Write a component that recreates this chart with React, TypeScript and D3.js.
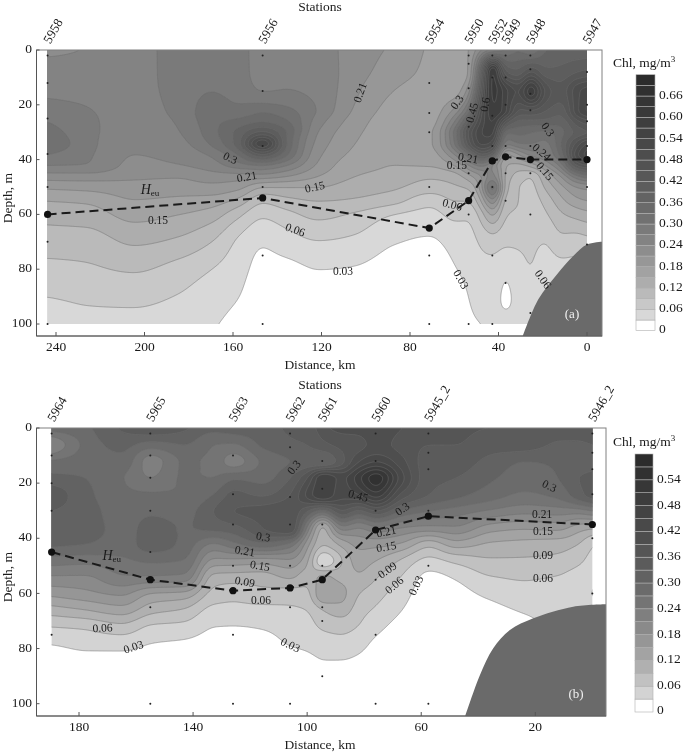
import React, { useMemo } from "react";
import * as d3 from "d3";

// ---------- Panel (a) ----------
const distA = [244, 226, 205, 185, 170, 158, 147, 136, 122, 105, 88, 71, 60, 53.5, 48, 42.8, 37, 31, 25.6, 19, 12, 5, 0];
const depthA = [0, 8, 15, 22, 26, 30, 34, 38, 42, 46, 50, 55, 60, 70, 80, 90, 100];
const profilesA = [
  [.23, .26, .265, .285, .30, .315, .33, .30, .27, .225, .185, .15, .13, .105, .08, .06, .04],
  [.242, .255, .262, .272, .277, .28, .28, .275, .268, .225, .19, .155, .135, .105, .085, .065, .05],
  [.25, .255, .258, .258, .255, .25, .246, .24, .232, .216, .197, .178, .16, .124, .093, .068, .048],
  [.285, .285, .283, .278, .273, .268, .26, .25, .238, .213, .195, .172, .15, .113, .078, .058, .042],
  [.285, .29, .30, .315, .32, .318, .305, .275, .255, .225, .20, .165, .135, .09, .06, .043, .033],
  [.285, .285, .29, .31, .34, .37, .375, .33, .285, .225, .19, .14, .098, .055, .042, .031, .02],
  [.25, .255, .27, .325, .36, .43, .54, .42, .30, .225, .15, .095, .065, .033, .02, .012, .01],
  [.26, .262, .272, .31, .335, .36, .36, .335, .27, .21, .15, .11, .08, .045, .022, .014, .01],
  [.255, .258, .262, .268, .255, .24, .23, .218, .205, .18, .15, .12, .098, .058, .03, .018, .012],
  [.225, .222, .215, .205, .195, .187, .18, .172, .16, .15, .135, .115, .085, .052, .028, .02, .012],
  [.205, .195, .18, .17, .165, .16, .155, .152, .15, .14, .125, .10, .06, .032, .018, .012, .01],
  [.175, .17, .165, .165, .168, .175, .175, .165, .152, .125, .105, .07, .05, .026, .015, .01, .01],
  [.16, .15, .165, .22, .27, .31, .30, .24, .18, .135, .115, .09, .068, .04, .028, .015, .012],
  [.18, .18, .23, .32, .40, .46, .44, .33, .24, .17, .125, .09, .065, .048, .04, .031, .025],
  [.24, .40, .45, .50, .52, .54, .52, .42, .28, .21, .195, .15, .105, .065, .05, .04, .03],
  [.28, .63, .62, .60, .58, .56, .50, .38, .24, .26, .33, .24, .16, .075, .05, .04, .035],
  [.30, .42, .55, .55, .44, .33, .27, .17, .15, .14, .13, .105, .09, .065, .034, .024, .04],
  [.33, .40, .50, .44, .38, .34, .30, .21, .14, .105, .09, .09, .085, .065, .05, .04, .035],
  [.30, .46, .60, .45, .38, .33, .30, .25, .16, .09, .08, .075, .07, .065, .06, .045, .035],
  [.36, .40, .47, .42, .38, .32, .29, .27, .21, .15, .125, .10, .085, .06, .045, .04, .04],
  [.37, .40, .43, .40, .37, .35, .36, .34, .28, .21, .17, .14, .115, .08, .05, .04, .04],
  [.37, .42, .50, .50, .44, .40, .46, .50, .42, .29, .21, .17, .13, .075, .05, .04, .04],
  [.37, .43, .53, .55, .47, .42, .52, .56, .45, .32, .22, .18, .14, .08, .05, .04, .04],
];
const stationsA = [
  { name: "5958", dist: 243.8, samples: [2, 12, 25, 38, 50, 70, 100] },
  { name: "5956", dist: 146.6, samples: [2, 15, 35, 50, 75, 100] },
  { name: "5954", dist: 71.3, samples: [12, 23, 30, 50, 75, 100] },
  { name: "5950", dist: 53.5, samples: [2, 5, 14, 28, 45, 60, 100] },
  { name: "5952", dist: 42.8, samples: [2, 10, 24, 35, 50, 75, 100] },
  { name: "5949", dist: 36.8, samples: [2, 10, 20, 35, 45, 55, 85] },
  { name: "5948", dist: 25.6, samples: [2, 7, 16, 22, 35, 45, 60, 96] },
  { name: "5947", dist: 0, samples: [8, 20, 26, 35, 50, 71] },
];
const heuA = [[243.8, 60], [146.6, 54], [71.3, 65], [53.5, 55], [42.8, 40.5], [36.8, 39], [25.6, 40], [0, 40]];
const bottomA = [[29, 104.4], [22, 91], [13.7, 82], [6, 75], [0, 71], [-7, 70]];
const labelsA: [string, number, number, number][] = [
  ["0.3", 161.4, 39.8, 25], ["0.21", 153.7, 46.7, -10], ["0.15", 122.9, 50.4, -12], ["0.15", 193.9, 62.4, 0],
  ["0.06", 132, 66, 20], ["0.03", 110.3, 81, 0], ["0.21", 102.1, 15.7, -70], ["0.3", 58.3, 19.3, -55],
  ["0.45", 51.5, 23, -75], ["0.6", 45.6, 20, -80], ["0.3", 18.1, 29.2, 55], ["0.21", 53.8, 39.8, 10],
  ["0.15", 58.8, 42.3, 0], ["0.24", 20.8, 37.6, 40], ["0.15", 19.4, 44.5, 50], ["0.06", 61, 56.9, 15],
  ["0.03", 57.4, 83.9, 60], ["0.06", 20.3, 83.9, 55],
];
const ticksXA = [240, 200, 160, 120, 80, 40, 0];
const legendTicksA = [0, .06, .12, .18, .24, .30, .36, .42, .48, .54, .60, .66];

// ---------- Panel (b) ----------
const distB = [189.6, 178, 165, 155, 143, 133, 126, 116, 106, 100, 94.7, 88, 82, 76, 67, 57.5, 48, 36, 24, 12, 5, 0];
const depthB = [0, 6, 12, 18, 24, 30, 36, 42, 48, 54, 60, 66, 72, 78, 84, 92, 100];
const profilesB = [
  [.285, .21, .275, .31, .35, .33, .315, .305, .255, .205, .158, .105, .06, .032, .01, .008, .005],
  [.295, .278, .285, .30, .31, .315, .315, .30, .25, .205, .17, .118, .065, .04, .02, .01, .005],
  [.335, .31, .29, .272, .278, .285, .288, .285, .263, .235, .185, .135, .08, .042, .02, .01, .005],
  [.36, .285, .225, .24, .275, .295, .31, .315, .275, .235, .148, .10, .055, .03, .015, .01, .005],
  [.335, .30, .275, .275, .275, .29, .298, .29, .268, .23, .14, .085, .05, .025, .012, .008, .005],
  [.31, .27, .26, .27, .30, .33, .31, .235, .17, .108, .078, .05, .03, .018, .01, .008, .005],
  [.32, .265, .225, .295, .34, .36, .32, .26, .17, .105, .07, .05, .029, .018, .01, .008, .005],
  [.32, .305, .275, .29, .325, .37, .36, .29, .165, .105, .08, .05, .032, .02, .012, .008, .005],
  [.335, .325, .30, .33, .36, .385, .39, .26, .175, .125, .075, .055, .042, .032, .02, .012, .008],
  [.34, .33, .31, .39, .43, .33, .23, .16, .125, .10, .08, .06, .048, .036, .024, .012, .008],
  [.38, .35, .30, .48, .48, .28, .11, .09, .03, .13, .15, .09, .065, .045, .03, .02, .015],
  [.40, .37, .35, .44, .43, .36, .23, .13, .09, .11, .13, .105, .07, .05, .03, .015, .01],
  [.40, .38, .42, .50, .45, .32, .21, .16, .135, .115, .09, .072, .058, .04, .025, .012, .008],
  [.41, .40, .45, .56, .50, .36, .235, .16, .12, .092, .072, .055, .038, .024, .016, .01, .008],
  [.39, .38, .40, .43, .38, .295, .21, .145, .085, .058, .042, .03, .02, .014, .01, .008, .008],
  [.38, .36, .345, .34, .33, .27, .20, .10, .05, .022, .015, .012, .01, .01, .008, .008, .008],
  [.37, .36, .345, .33, .31, .255, .205, .135, .068, .033, .02, .012, .01, .008, .008, .008, .008],
  [.36, .345, .32, .305, .285, .235, .165, .115, .085, .058, .037, .02, .012, .01, .008, .008, .008],
  [.36, .345, .30, .285, .265, .22, .155, .11, .085, .063, .05, .033, .02, .012, .01, .01, .01],
  [.345, .325, .305, .30, .28, .225, .16, .105, .08, .058, .045, .04, .035, .03, .03, .03, .03],
  [.345, .325, .31, .33, .32, .225, .135, .09, .065, .05, .045, .04, .035, .03, .03, .03, .03],
  [.36, .33, .32, .34, .345, .24, .125, .06, .05, .055, .063, .045, .04, .035, .03, .03, .03],
];
const stationsB = [
  { name: "5964", dist: 189.6, samples: [2, 10, 20, 30, 45, 75] },
  { name: "5965", dist: 155, samples: [2, 10, 18, 30, 45, 65, 100] },
  { name: "5963", dist: 126, samples: [10, 24, 35, 50, 75, 100] },
  { name: "5962", dist: 106, samples: [2, 7, 25, 35, 50, 65, 100] },
  { name: "5961", dist: 94.7, samples: [12, 22, 35, 50, 65, 70, 90] },
  { name: "5960", dist: 76, samples: [2, 12, 30, 55, 75, 100] },
  { name: "5945_2", dist: 57.5, samples: [2, 9, 15, 30, 50, 100] },
  { name: "5946_2", dist: 0, samples: [2, 9, 15, 24, 40, 60] },
];
const heuB = [[189.6, 45], [155, 55], [126, 59], [106, 58], [94.7, 55], [76, 37], [57.5, 32], [0, 35]];
const bottomB = [[44.6, 104.6], [39.4, 89.6], [34.8, 80], [28.9, 73.3], [20.7, 69], [6.7, 64.8], [-4.8, 63.9]];
const labelsB: [string, number, number, number][] = [
  ["0.3", 104.3, 14.5, -50], ["0.3", 115.5, 39.9, 10], ["0.21", 121.9, 45, 10], ["0.15", 116.6, 50.4, 10],
  ["0.09", 121.9, 56.2, 10], ["0.06", 116.2, 62.7, 0], ["0.06", 171.7, 72.9, -3], ["0.03", 160.8, 79.8, -18],
  ["0.03", 106, 79.1, 25], ["0.45", 82.2, 25, 15], ["0.3", 66.4, 29.7, -35], ["0.21", 72.2, 38, -12],
  ["0.15", 72.2, 43.5, -10], ["0.09", 71.7, 51.9, -35], ["0.06", 69.2, 57.3, -40], ["0.03", 61.5, 57.3, -65],
  ["0.3", 15.2, 21.4, 25], ["0.21", 17.6, 31.6, 0], ["0.15", 17.3, 38, 0], ["0.09", 17.3, 46.4, 0], ["0.06", 17.3, 54.8, 0],
];
const ticksXB = [180, 140, 100, 60, 20];
const legendTicksB = [0, .06, .12, .18, .24, .30, .36, .42, .48, .54];

const ticksY = [0, 20, 40, 60, 80, 100];
const STEP = 0.03;
const FONT = "'Liberation Serif', serif";
// Grey ramp, as a function of the share of the colour bar's range.
const rampF = [0, .04, .083, .167, .25, .333, .417, .5, .583, .667, .75, .833, .917, 1];
const rampC = ["#ffffff", "#e0e0e0", "#d0d0d0", "#b2b2b2", "#9c9c9c", "#888888", "#757575", "#666666", "#5a5a5a", "#4f4f4f", "#464646", "#3c3c3c", "#323232", "#2a2a2a"];

// Monotone cubic resampling of one profile onto integer pixel positions, so the
// contours of the read values come out round, as in the kriged original.
function resample(xs: number[], ys: number[], start: number, n: number, out: Float64Array, off: number, stride: number) {
  const k = xs.length;
  const h = d3.range(k - 1).map((i) => xs[i + 1] - xs[i]);
  const s = d3.range(k - 1).map((i) => (ys[i + 1] - ys[i]) / h[i]);
  const m = new Array(k).fill(0);
  m[0] = s[0];
  m[k - 1] = s[k - 2];
  for (let i = 1; i < k - 1; i++) {
    if (s[i - 1] * s[i] <= 0) m[i] = 0;
    else {
      const w1 = 2 * h[i] + h[i - 1];
      const w2 = h[i] + 2 * h[i - 1];
      m[i] = (w1 + w2) / (w1 / s[i - 1] + w2 / s[i]);
    }
  }
  let c = 0;
  for (let q = 0; q < n; q++) {
    const p = start + q;
    while (c < k - 2 && p >= xs[c + 1]) c++;
    const t = Math.min(Math.max((p - xs[c]) / h[c], 0), 1);
    const t2 = t * t, t3 = t2 * t;
    out[off + q * stride] =
      (2 * t3 - 3 * t2 + 1) * ys[c] + (t3 - 2 * t2 + t) * h[c] * m[c] +
      (-2 * t3 + 3 * t2) * ys[c + 1] + (t3 - t2) * h[c] * m[c + 1];
  }
}

function Panel({ cfg }: { cfg: any }) {
  const { dist, depth, profiles, stations, heu, bottom, labels, ticksX, legendTicks, vmax,
    xScale: x, yScale: y, frame, legend, tag, heuPos, id } = cfg;
  const colour = d3.scaleLinear<string>().domain(rampF.map((f) => f * vmax)).range(rampC);

  const { bands, gx, gy } = useMemo(() => {
    const cx: number[] = dist.map((d: number) => x(d));
    const cy: number[] = depth.map((d: number) => y(d));
    const gx = Math.floor(cx[0]) - 4;
    const gy = Math.floor(cy[0]) - 4;
    const w = Math.ceil(cx[cx.length - 1]) + 4 - gx;
    const h = Math.ceil(cy[cy.length - 1]) + 4 - gy;
    const columns = profiles.map((p: number[]) => {
      const o = new Float64Array(h);
      resample(cy, p, gy, h, o, 0, 1);
      return o;
    });
    const field = new Float64Array(w * h);
    for (let j = 0; j < h; j++) {
      resample(cx, columns.map((c: Float64Array) => c[j]), gx, w, field, j * w, 1);
    }
    d3.blur2({ data: field, width: w, height: h }, 3, 1);
    const thresholds = d3.range(1, Math.round(vmax / STEP)).map((k) => k * STEP);
    const gen = d3.contours().size([w, h]).smooth(true).thresholds(thresholds);
    return { bands: gen(field as any), gx, gy };
  }, []);

  const path = d3.geoPath();
  const xL = x(dist[0]);
  const xR = x(dist[dist.length - 1]);
  const line = d3.line<number[]>().x((d) => x(d[0])).y((d) => y(d[1]));
  const smooth = d3.line<number[]>().x((d) => x(d[0])).y((d) => y(d[1])).curve(d3.curveCatmullRom);
  const bottomPath = smooth(bottom) +
    `L${frame.right},${y(bottom[bottom.length - 1][1])}L${frame.right},${frame.bottom}L${x(bottom[0][0])},${frame.bottom}Z`;
  const legY = d3.scaleLinear().domain([0, vmax]).range([legend.bottom, legend.top]);
  const cells = d3.range(0, Math.round(vmax / STEP)).map((k) => k * STEP);

  return (
    <g fontFamily={FONT} fill="#1a1a1a">
      <clipPath id={id}><rect x={xL} y={frame.top} width={xR - xL} height={y(100) - frame.top} /></clipPath>
      <g clipPath={`url(#${id})`}>
        <g transform={`translate(${gx},${gy})`}>
          {bands.map((b: any, i: number) => (
            <path key={i} d={path(b) as string} fill={colour(b.value + STEP / 2)} stroke="#6e6e6e" strokeWidth={0.5} />
          ))}
        </g>
      </g>
      <path d={bottomPath} fill="#6a6a6a" />
      <rect x={frame.left} y={frame.top} width={frame.right - frame.left} height={frame.bottom - frame.top} fill="none" stroke="#808080" strokeWidth={1} />
      <path d={`M${frame.left},${frame.top}V${frame.bottom}H${frame.right}`} fill="none" stroke="#555" strokeWidth={1} />

      {stations.map((s: any) => s.samples.map((v: number) => (
        <circle key={s.name + v} cx={x(s.dist)} cy={y(v)} r={1} fill="#222" />
      )))}
      {labels.map((l: any, i: number) => (
        <text key={i} transform={`translate(${x(l[1])},${y(l[2])}) rotate(${l[3]})`} fontSize={11.5} textAnchor="middle" dominantBaseline="middle">{l[0]}</text>
      ))}
      <path d={line(heu) as string} fill="none" stroke="#1a1a1a" strokeWidth={2} strokeDasharray="9,5" />
      {heu.map((p: number[], i: number) => <circle key={i} cx={x(p[0])} cy={y(p[1])} r={3.6} fill="#111" />)}
      <text x={x(heuPos[0])} y={y(heuPos[1])} fontSize={14} textAnchor="middle" dominantBaseline="middle">
        <tspan fontStyle="italic">H</tspan><tspan fontSize={9} dy={3}>eu</tspan>
      </text>
      <text x={frame.right - 30} y={frame.bottom - 21} fontSize={13} fill="#f0f0f0" textAnchor="middle" dominantBaseline="middle">{tag}</text>

      {ticksY.map((t) => (
        <g key={t}>
          <line x1={frame.left} x2={frame.left + 3} y1={y(t)} y2={y(t)} stroke="#555" />
          <text x={32} y={y(t)} fontSize={13.5} textAnchor="end" dominantBaseline="middle">{t}</text>
        </g>
      ))}
      {ticksX.map((t: number) => (
        <g key={t}>
          <line x1={x(t)} x2={x(t)} y1={frame.bottom} y2={frame.bottom - 4} stroke="#555" />
          <text x={x(t)} y={frame.bottom + 12} fontSize={13.5} textAnchor="middle" dominantBaseline="middle">{t}</text>
        </g>
      ))}
      <text x={320} y={frame.bottom + 30} fontSize={13.5} textAnchor="middle" dominantBaseline="middle">Distance, km</text>
      <text x={320} y={frame.top - 42} fontSize={13.5} textAnchor="middle" dominantBaseline="middle">Stations</text>
      <text transform={`translate(9,${(frame.top + frame.bottom) / 2 + 5}) rotate(-90)`} fontSize={13.5} textAnchor="middle" dominantBaseline="middle">Depth, m</text>
      {stations.map((s: any) => (
        <text key={s.name} transform={`translate(${x(s.dist)},${frame.top - 7}) rotate(-60)`} fontSize={13} dominantBaseline="middle">{s.name}</text>
      ))}

      {cells.map((v: number) => (
        <rect key={v} x={legend.x} width={legend.w} y={legY(v + STEP)} height={legY(v) - legY(v + STEP)}
          fill={v === 0 ? "#fff" : colour(v + STEP / 2)} stroke="#b0b0b0" strokeWidth={0.6} />
      ))}
      {legendTicks.map((t: number) => (
        <text key={t} x={legend.x + legend.w + 4} y={legY(t) - (t === 0 ? 1 : 0)} fontSize={13.5} dominantBaseline="middle">
          {t === 0 ? "0" : t.toFixed(2)}
        </text>
      ))}
      <text x={613} y={legend.top - 11} fontSize={13.5} dominantBaseline="middle">
        Chl, mg/m<tspan fontSize={9} dy={-4}>3</tspan>
      </text>
    </g>
  );
}

export default function App() {
  const cfgA = {
    id: "clipA", dist: distA, depth: depthA, profiles: profilesA, stations: stationsA, heu: heuA, bottom: bottomA,
    labels: labelsA, ticksX: ticksXA, legendTicks: legendTicksA, vmax: 0.72, tag: "(a)", heuPos: [197.5, 51.5],
    xScale: d3.scaleLinear().domain([240, 0]).range([56, 587]),
    yScale: d3.scaleLinear().domain([0, 100]).range([50, 324]),
    frame: { left: 36.5, right: 602, top: 50, bottom: 336 },
    legend: { x: 636, w: 19, top: 74.7, bottom: 330.7 },
  };
  const cfgB = {
    id: "clipB", dist: distB, depth: depthB, profiles: profilesB, stations: stationsB, heu: heuB, bottom: bottomB,
    labels: labelsB, ticksX: ticksXB, legendTicks: legendTicksB, vmax: 0.6, tag: "(b)", heuPos: [168.5, 46.8],
    xScale: d3.scaleLinear().domain([180, 20]).range([79, 535.3]),
    yScale: d3.scaleLinear().domain([0, 100]).range([428, 703.7]),
    frame: { left: 36.5, right: 606, top: 428, bottom: 716 },
    legend: { x: 635, w: 18, top: 454, bottom: 712 },
  };
  return (
    <svg width={685} height={753} style={{ position: "absolute", left: 0, top: 0, background: "#fff", filter: "blur(0.35px)" }}>
      <Panel cfg={cfgA} />
      <Panel cfg={cfgB} />
    </svg>
  );
}
